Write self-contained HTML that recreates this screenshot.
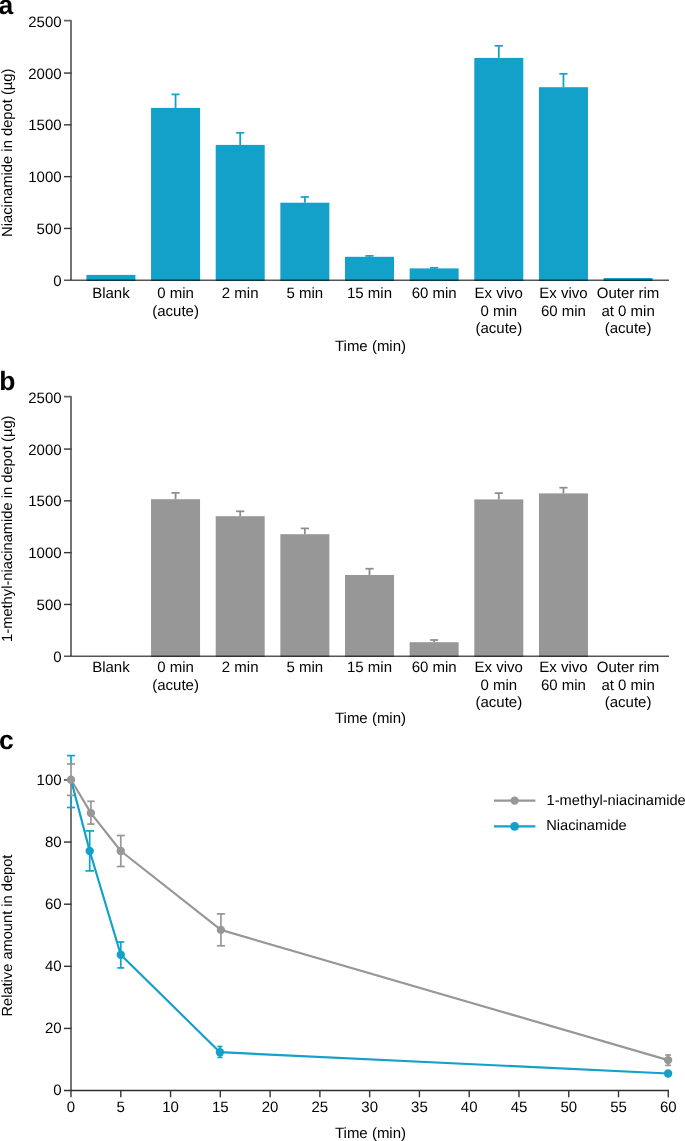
<!DOCTYPE html>
<html><head><meta charset="utf-8"><style>
html,body{margin:0;padding:0;background:#fff;}
svg{display:block;will-change:transform;}
text{font-family:"Liberation Sans",sans-serif;font-size:15px;fill:#000;text-rendering:geometricPrecision;}
</style></head><body>
<svg width="685" height="1141" viewBox="0 0 685 1141">
<text x="-1.5" y="13.5" style="font-size:26.5px;font-weight:bold">a</text>
<rect x="86.40" y="274.9" width="49" height="6.10" fill="#13a1ca"/>
<rect x="151.05" y="107.9" width="49" height="173.10" fill="#13a1ca"/>
<line x1="175.55" y1="107.9" x2="175.55" y2="94" stroke="#13a1ca" stroke-width="1.8"/>
<line x1="171.45" y1="94.40" x2="179.65" y2="94.40" stroke="#13a1ca" stroke-width="1.7"/>
<rect x="215.70" y="144.9" width="49" height="136.10" fill="#13a1ca"/>
<line x1="240.20" y1="144.9" x2="240.20" y2="132.4" stroke="#13a1ca" stroke-width="1.8"/>
<line x1="236.10" y1="132.80" x2="244.30" y2="132.80" stroke="#13a1ca" stroke-width="1.7"/>
<rect x="280.35" y="202.7" width="49" height="78.30" fill="#13a1ca"/>
<line x1="304.85" y1="202.7" x2="304.85" y2="196.6" stroke="#13a1ca" stroke-width="1.8"/>
<line x1="300.75" y1="197.00" x2="308.95" y2="197.00" stroke="#13a1ca" stroke-width="1.7"/>
<rect x="345.00" y="256.8" width="49" height="24.20" fill="#13a1ca"/>
<line x1="369.50" y1="256.8" x2="369.50" y2="255.5" stroke="#13a1ca" stroke-width="1.8"/>
<line x1="365.40" y1="255.90" x2="373.60" y2="255.90" stroke="#13a1ca" stroke-width="1.7"/>
<rect x="409.65" y="268.4" width="49" height="12.60" fill="#13a1ca"/>
<line x1="434.15" y1="268.4" x2="434.15" y2="267.4" stroke="#13a1ca" stroke-width="1.8"/>
<line x1="430.05" y1="267.80" x2="438.25" y2="267.80" stroke="#13a1ca" stroke-width="1.7"/>
<rect x="474.30" y="57.9" width="49" height="223.10" fill="#13a1ca"/>
<line x1="498.80" y1="57.9" x2="498.80" y2="45.4" stroke="#13a1ca" stroke-width="1.8"/>
<line x1="494.70" y1="45.80" x2="502.90" y2="45.80" stroke="#13a1ca" stroke-width="1.7"/>
<rect x="538.95" y="87.2" width="49" height="193.80" fill="#13a1ca"/>
<line x1="563.45" y1="87.2" x2="563.45" y2="73.4" stroke="#13a1ca" stroke-width="1.8"/>
<line x1="559.35" y1="73.80" x2="567.55" y2="73.80" stroke="#13a1ca" stroke-width="1.7"/>
<rect x="603.60" y="278" width="49" height="3.00" fill="#13a1ca"/>
<path d="M64 20.70 H71 V280" fill="none" stroke="#666" stroke-width="1.8" stroke-linejoin="round"/>
<line x1="64" y1="280.35" x2="669" y2="280.35" stroke="#555" stroke-width="1.5" style="mix-blend-mode:multiply"/>
<text x="61.6" y="285.80" text-anchor="end">0</text>
<line x1="64" y1="228.45" x2="71.5" y2="228.45" stroke="#363636" stroke-width="1.4"/>
<text x="61.6" y="234.00" text-anchor="end">500</text>
<line x1="64" y1="176.65" x2="71.5" y2="176.65" stroke="#363636" stroke-width="1.4"/>
<text x="61.6" y="182.20" text-anchor="end">1000</text>
<line x1="64" y1="124.85" x2="71.5" y2="124.85" stroke="#363636" stroke-width="1.4"/>
<text x="61.6" y="130.40" text-anchor="end">1500</text>
<line x1="64" y1="73.05" x2="71.5" y2="73.05" stroke="#363636" stroke-width="1.4"/>
<text x="61.6" y="78.60" text-anchor="end">2000</text>
<text x="61.6" y="26.80" text-anchor="end">2500</text>
<text x="110.90" y="298.40" text-anchor="middle">Blank</text>
<text x="175.55" y="298.40" text-anchor="middle">0 min</text>
<text x="175.55" y="315.70" text-anchor="middle">(acute)</text>
<text x="240.20" y="298.40" text-anchor="middle">2 min</text>
<text x="304.85" y="298.40" text-anchor="middle">5 min</text>
<text x="369.50" y="298.40" text-anchor="middle">15 min</text>
<text x="434.15" y="298.40" text-anchor="middle">60 min</text>
<text x="498.80" y="298.40" text-anchor="middle">Ex vivo</text>
<text x="498.80" y="315.70" text-anchor="middle">0 min</text>
<text x="498.80" y="333.00" text-anchor="middle">(acute)</text>
<text x="563.45" y="298.40" text-anchor="middle">Ex vivo</text>
<text x="563.45" y="315.70" text-anchor="middle">60 min</text>
<text x="628.10" y="298.40" text-anchor="middle">Outer rim</text>
<text x="628.10" y="315.70" text-anchor="middle">at 0 min</text>
<text x="628.10" y="333.00" text-anchor="middle">(acute)</text>
<text x="370.5" y="350.6" text-anchor="middle">Time (min)</text>
<text transform="translate(11.9 152.7) rotate(-90)" text-anchor="middle" style="font-size:14.75px">Niacinamide in depot (µg)</text>
<text x="-0.8" y="389.5" style="font-size:26.5px;font-weight:bold">b</text>
<rect x="151.05" y="499.2" width="49" height="157.80" fill="#979797"/>
<line x1="175.55" y1="499.2" x2="175.55" y2="492.5" stroke="#8c8c8c" stroke-width="1.8"/>
<line x1="171.45" y1="492.90" x2="179.65" y2="492.90" stroke="#8c8c8c" stroke-width="1.7"/>
<rect x="215.70" y="516.2" width="49" height="140.80" fill="#979797"/>
<line x1="240.20" y1="516.2" x2="240.20" y2="510.9" stroke="#8c8c8c" stroke-width="1.8"/>
<line x1="236.10" y1="511.30" x2="244.30" y2="511.30" stroke="#8c8c8c" stroke-width="1.7"/>
<rect x="280.35" y="534.2" width="49" height="122.80" fill="#979797"/>
<line x1="304.85" y1="534.2" x2="304.85" y2="528" stroke="#8c8c8c" stroke-width="1.8"/>
<line x1="300.75" y1="528.40" x2="308.95" y2="528.40" stroke="#8c8c8c" stroke-width="1.7"/>
<rect x="345.00" y="575" width="49" height="82.00" fill="#979797"/>
<line x1="369.50" y1="575" x2="369.50" y2="568.3" stroke="#8c8c8c" stroke-width="1.8"/>
<line x1="365.40" y1="568.70" x2="373.60" y2="568.70" stroke="#8c8c8c" stroke-width="1.7"/>
<rect x="409.65" y="642.2" width="49" height="14.80" fill="#979797"/>
<line x1="434.15" y1="642.2" x2="434.15" y2="639.6" stroke="#8c8c8c" stroke-width="1.8"/>
<line x1="430.05" y1="640.00" x2="438.25" y2="640.00" stroke="#8c8c8c" stroke-width="1.7"/>
<rect x="474.30" y="499.4" width="49" height="157.60" fill="#979797"/>
<line x1="498.80" y1="499.4" x2="498.80" y2="492.7" stroke="#8c8c8c" stroke-width="1.8"/>
<line x1="494.70" y1="493.10" x2="502.90" y2="493.10" stroke="#8c8c8c" stroke-width="1.7"/>
<rect x="538.95" y="493.4" width="49" height="163.60" fill="#979797"/>
<line x1="563.45" y1="493.4" x2="563.45" y2="487.3" stroke="#8c8c8c" stroke-width="1.8"/>
<line x1="559.35" y1="487.70" x2="567.55" y2="487.70" stroke="#8c8c8c" stroke-width="1.7"/>
<path d="M64 396.70 H71 V656" fill="none" stroke="#666" stroke-width="1.8" stroke-linejoin="round"/>
<line x1="64" y1="656.35" x2="669" y2="656.35" stroke="#555" stroke-width="1.5" style="mix-blend-mode:multiply"/>
<text x="61.6" y="661.80" text-anchor="end">0</text>
<line x1="64" y1="604.45" x2="71.5" y2="604.45" stroke="#363636" stroke-width="1.4"/>
<text x="61.6" y="610.00" text-anchor="end">500</text>
<line x1="64" y1="552.65" x2="71.5" y2="552.65" stroke="#363636" stroke-width="1.4"/>
<text x="61.6" y="558.20" text-anchor="end">1000</text>
<line x1="64" y1="500.85" x2="71.5" y2="500.85" stroke="#363636" stroke-width="1.4"/>
<text x="61.6" y="506.40" text-anchor="end">1500</text>
<line x1="64" y1="449.05" x2="71.5" y2="449.05" stroke="#363636" stroke-width="1.4"/>
<text x="61.6" y="454.60" text-anchor="end">2000</text>
<text x="61.6" y="402.80" text-anchor="end">2500</text>
<text x="110.90" y="672.20" text-anchor="middle">Blank</text>
<text x="175.55" y="672.20" text-anchor="middle">0 min</text>
<text x="175.55" y="689.50" text-anchor="middle">(acute)</text>
<text x="240.20" y="672.20" text-anchor="middle">2 min</text>
<text x="304.85" y="672.20" text-anchor="middle">5 min</text>
<text x="369.50" y="672.20" text-anchor="middle">15 min</text>
<text x="434.15" y="672.20" text-anchor="middle">60 min</text>
<text x="498.80" y="672.20" text-anchor="middle">Ex vivo</text>
<text x="498.80" y="689.50" text-anchor="middle">0 min</text>
<text x="498.80" y="706.80" text-anchor="middle">(acute)</text>
<text x="563.45" y="672.20" text-anchor="middle">Ex vivo</text>
<text x="563.45" y="689.50" text-anchor="middle">60 min</text>
<text x="628.10" y="672.20" text-anchor="middle">Outer rim</text>
<text x="628.10" y="689.50" text-anchor="middle">at 0 min</text>
<text x="628.10" y="706.80" text-anchor="middle">(acute)</text>
<text x="370.5" y="723.1" text-anchor="middle">Time (min)</text>
<text transform="translate(11.9 528.7) rotate(-90)" text-anchor="middle" style="font-size:14.7px">1-methyl-niacinamide in depot (µg)</text>
<text x="-1" y="749.1" style="font-size:26.5px;font-weight:bold">c</text>
<line x1="71" y1="779.8000000000002" x2="71" y2="1097.3" stroke="#666" stroke-width="1.8"/>
<text x="61.6" y="1095.40" text-anchor="end">0</text>
<line x1="64" y1="1028.43" x2="71.5" y2="1028.43" stroke="#363636" stroke-width="1.45"/>
<text x="61.6" y="1033.28" text-anchor="end">20</text>
<line x1="64" y1="966.31" x2="71.5" y2="966.31" stroke="#363636" stroke-width="1.45"/>
<text x="61.6" y="971.16" text-anchor="end">40</text>
<line x1="64" y1="904.19" x2="71.5" y2="904.19" stroke="#363636" stroke-width="1.45"/>
<text x="61.6" y="909.04" text-anchor="end">60</text>
<line x1="64" y1="842.07" x2="71.5" y2="842.07" stroke="#363636" stroke-width="1.45"/>
<text x="61.6" y="846.92" text-anchor="end">80</text>
<line x1="64" y1="779.95" x2="71.5" y2="779.95" stroke="#363636" stroke-width="1.45"/>
<text x="61.6" y="784.80" text-anchor="end">100</text>
<line x1="64" y1="1090.4" x2="669.00" y2="1090.4" stroke="#2e2e2e" stroke-width="1.45"/>
<text x="71.00" y="1112.2" text-anchor="middle">0</text>
<line x1="120.78" y1="1090.4" x2="120.78" y2="1097.3" stroke="#3a3a3a" stroke-width="1.45"/>
<text x="120.78" y="1112.2" text-anchor="middle">5</text>
<line x1="170.55" y1="1090.4" x2="170.55" y2="1097.3" stroke="#3a3a3a" stroke-width="1.45"/>
<text x="170.55" y="1112.2" text-anchor="middle">10</text>
<line x1="220.32" y1="1090.4" x2="220.32" y2="1097.3" stroke="#3a3a3a" stroke-width="1.45"/>
<text x="220.32" y="1112.2" text-anchor="middle">15</text>
<line x1="270.10" y1="1090.4" x2="270.10" y2="1097.3" stroke="#3a3a3a" stroke-width="1.45"/>
<text x="270.10" y="1112.2" text-anchor="middle">20</text>
<line x1="319.88" y1="1090.4" x2="319.88" y2="1097.3" stroke="#3a3a3a" stroke-width="1.45"/>
<text x="319.88" y="1112.2" text-anchor="middle">25</text>
<line x1="369.65" y1="1090.4" x2="369.65" y2="1097.3" stroke="#3a3a3a" stroke-width="1.45"/>
<text x="369.65" y="1112.2" text-anchor="middle">30</text>
<line x1="419.43" y1="1090.4" x2="419.43" y2="1097.3" stroke="#3a3a3a" stroke-width="1.45"/>
<text x="419.43" y="1112.2" text-anchor="middle">35</text>
<line x1="469.20" y1="1090.4" x2="469.20" y2="1097.3" stroke="#3a3a3a" stroke-width="1.45"/>
<text x="469.20" y="1112.2" text-anchor="middle">40</text>
<line x1="518.98" y1="1090.4" x2="518.98" y2="1097.3" stroke="#3a3a3a" stroke-width="1.45"/>
<text x="518.98" y="1112.2" text-anchor="middle">45</text>
<line x1="568.75" y1="1090.4" x2="568.75" y2="1097.3" stroke="#3a3a3a" stroke-width="1.45"/>
<text x="568.75" y="1112.2" text-anchor="middle">50</text>
<line x1="618.52" y1="1090.4" x2="618.52" y2="1097.3" stroke="#3a3a3a" stroke-width="1.45"/>
<text x="618.52" y="1112.2" text-anchor="middle">55</text>
<line x1="668.30" y1="1090.4" x2="668.30" y2="1097.3" stroke="#3a3a3a" stroke-width="1.45"/>
<text x="668.30" y="1112.2" text-anchor="middle">60</text>
<text x="370.5" y="1137.7" text-anchor="middle">Time (min)</text>
<text transform="translate(11.9 935.6) rotate(-90)" text-anchor="middle" style="font-size:14.65px">Relative amount in depot</text>
<line x1="71.00" y1="755.6" x2="71.00" y2="764.5" stroke="#13a1ca" stroke-width="1.7"/>
<line x1="71.00" y1="795" x2="71.00" y2="807.5" stroke="#13a1ca" stroke-width="1.7"/>
<line x1="67.00" y1="755.6" x2="75.00" y2="755.6" stroke="#13a1ca" stroke-width="1.7"/>
<line x1="67.00" y1="807.5" x2="75.00" y2="807.5" stroke="#13a1ca" stroke-width="1.7"/>
<line x1="89.71" y1="830.9" x2="89.71" y2="870.9" stroke="#13a1ca" stroke-width="1.7"/>
<line x1="85.41" y1="830.9" x2="94.01" y2="830.9" stroke="#13a1ca" stroke-width="1.7"/>
<line x1="85.41" y1="870.9" x2="94.01" y2="870.9" stroke="#13a1ca" stroke-width="1.7"/>
<line x1="120.78" y1="942" x2="120.78" y2="967.9" stroke="#13a1ca" stroke-width="1.7"/>
<line x1="117.28" y1="942" x2="124.28" y2="942" stroke="#13a1ca" stroke-width="1.7"/>
<line x1="117.28" y1="967.9" x2="124.28" y2="967.9" stroke="#13a1ca" stroke-width="1.7"/>
<line x1="219.92" y1="1046.5" x2="219.92" y2="1057.4" stroke="#13a1ca" stroke-width="1.7"/>
<line x1="217.42" y1="1046.5" x2="222.42" y2="1046.5" stroke="#13a1ca" stroke-width="1.7"/>
<line x1="217.42" y1="1057.4" x2="222.42" y2="1057.4" stroke="#13a1ca" stroke-width="1.7"/>
<line x1="71.00" y1="764" x2="71.00" y2="795.4" stroke="#979797" stroke-width="1.7"/>
<line x1="67.00" y1="764" x2="75.00" y2="764" stroke="#979797" stroke-width="1.7"/>
<line x1="67.00" y1="795.4" x2="75.00" y2="795.4" stroke="#979797" stroke-width="1.7"/>
<line x1="90.91" y1="801.3" x2="90.91" y2="824.1" stroke="#979797" stroke-width="1.7"/>
<line x1="87.21" y1="801.3" x2="94.61" y2="801.3" stroke="#979797" stroke-width="1.7"/>
<line x1="87.21" y1="824.1" x2="94.61" y2="824.1" stroke="#979797" stroke-width="1.7"/>
<line x1="120.78" y1="835.5" x2="120.78" y2="866.5" stroke="#979797" stroke-width="1.7"/>
<line x1="116.78" y1="835.5" x2="124.78" y2="835.5" stroke="#979797" stroke-width="1.7"/>
<line x1="116.78" y1="866.5" x2="124.78" y2="866.5" stroke="#979797" stroke-width="1.7"/>
<line x1="220.92" y1="913.9" x2="220.92" y2="945.8" stroke="#979797" stroke-width="1.7"/>
<line x1="216.82" y1="913.9" x2="225.02" y2="913.9" stroke="#979797" stroke-width="1.7"/>
<line x1="216.82" y1="945.8" x2="225.02" y2="945.8" stroke="#979797" stroke-width="1.7"/>
<line x1="668.10" y1="1055" x2="668.10" y2="1065.4" stroke="#979797" stroke-width="1.7"/>
<line x1="665.20" y1="1055" x2="671.00" y2="1055" stroke="#979797" stroke-width="1.7"/>
<line x1="665.20" y1="1065.4" x2="671.00" y2="1065.4" stroke="#979797" stroke-width="1.7"/>
<polyline points="71.00,779.8 90.91,813.1 120.78,851 220.92,929.9 668.10,1060.1" fill="none" stroke="#979797" stroke-width="2.2" stroke-linejoin="round"/>
<polyline points="71.00,779.8 89.71,851 120.78,954.8 219.92,1052.2 668.10,1073.5" fill="none" stroke="#13a1ca" stroke-width="2.2" stroke-linejoin="round"/>
<circle cx="89.71" cy="851" r="4.2" fill="#13a1ca"/>
<circle cx="120.78" cy="954.8" r="4.2" fill="#13a1ca"/>
<circle cx="219.92" cy="1052.2" r="4.2" fill="#13a1ca"/>
<circle cx="668.10" cy="1073.5" r="4.2" fill="#13a1ca"/>
<circle cx="71.00" cy="779.8" r="4.2" fill="#979797"/>
<circle cx="90.91" cy="813.1" r="4.2" fill="#979797"/>
<circle cx="120.78" cy="851" r="4.2" fill="#979797"/>
<circle cx="220.92" cy="929.9" r="4.2" fill="#979797"/>
<circle cx="668.10" cy="1060.1" r="4.2" fill="#979797"/>
<line x1="494" y1="800.6" x2="535.4" y2="800.6" stroke="#979797" stroke-width="2.2"/>
<circle cx="514.6" cy="800.6" r="4.2" fill="#979797"/>
<line x1="494" y1="826.4" x2="535.4" y2="826.4" stroke="#13a1ca" stroke-width="2.2"/>
<circle cx="514.6" cy="826.4" r="4.4" fill="#13a1ca"/>
<text x="546.6" y="804.8" style="font-size:14.65px">1-methyl-niacinamide</text>
<text x="546.2" y="830" style="font-size:14.65px">Niacinamide</text>
</svg>
</body></html>
